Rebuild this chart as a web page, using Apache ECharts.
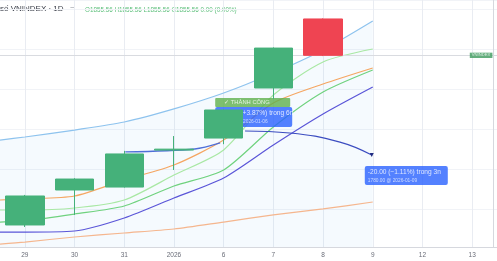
<!DOCTYPE html>
<html>
<head>
<meta charset="utf-8">
<script src="https://cdn.jsdelivr.net/npm/echarts@6/dist/echarts.min.js"></script>
<style>html,body{margin:0;padding:0;background:#fff;}#c{width:497px;height:261px;}</style>
</head>
<body>
<div id="c"></div>
<script>
// ---- data ----
const categories = ['29', '30', '31', '2026', '6', '7', '8', '9', '12', '13'];
// [open, close, low, high]
const candles = [
  [1728.5, 1750.2, 1727.0, 1751.0],
  [1754.7, 1762.9, 1736.0, 1763.5],
  [1756.9, 1781.7, 1756.5, 1784.0],
  [1784.6, 1785.3, 1769.7, 1795.1],
  [1793.6, 1814.6, 1789.0, 1815.0],
  [1831.1, 1861.0, 1822.8, 1861.5],
  [1882.8, 1855.56, 1855.0, 1883.2],
  '-', '-', '-'
];
const lineX = [-0.5, 0, 1, 2, 3, 4, 5, 6, 7];
const upperBand = [1792.1, 1794.4, 1799.6, 1805.6, 1815.4, 1827.3, 1842.3, 1859.6, 1881.3];
const lowerBand = [1723.2, 1723.2, 1724.0, 1733.7, 1748.7, 1763.7, 1788.4, 1811.6, 1831.8];
const maOrange = [1747.2, 1748.0, 1750.2, 1762.2, 1773.4, 1792.1, 1819.9, 1834.1, 1846.1];
const maLightGreen = [1739.7, 1739.7, 1741.2, 1747.2, 1765.9, 1784.7, 1825.8, 1850.6, 1860.3];
const maGreen = [1730.7, 1731.5, 1736.7, 1742.7, 1757.7, 1769.7, 1801.9, 1828.1, 1844.6];
const maLong = [1714.2, 1715.7, 1719.5, 1722.5, 1725.5, 1730.7, 1736.0, 1740.5, 1745.7];
const lastPrice = 1855.56;
const trendLine = [[2.02, 1783.2], [3.42, 1785.4], [3.93, 1789.9]];
const forecastPath = [[4.43, 1798.9], [5.33, 1797.4], [6.34, 1790.6], [6.98, 1780.9]];
const forecast1 = { x: 3.83, top: 1816.9, line1: '+67.00 (+3.87%) trong 6n', line2: '1800.00 @ 2026-01-06' };
const forecast2 = { x: 6.84, top: 1772.7, line1: '-20.00 (−1.11%) trong 3n', line2: '1780.00 @ 2026-01-09' };
const successLabel = { x: 3.83, top: 1823.6, text: '✓ THÀNH CÔNG' };
const tagPos = [9.18, lastPrice];
const gridPositions = [0, 1, 2, 3, 4, 5, 6, 7, 8, 9];

const pair = (ys) => lineX.map((x, i) => [x, ys[i]]);
const FONT = 'Arial, "Liberation Sans", sans-serif';

function lineSeries(name, ys, color, extra) {
  return Object.assign({
    name, type: 'line', xAxisIndex: 1, yAxisIndex: 0, data: pair(ys),
    symbol: 'none', smooth: 0.25, lineStyle: { color, width: 1.2 }, z: 3, silent: true
  }, extra || {});
}

const chart = echarts.init(document.getElementById('c'), null, { renderer: 'canvas' });
chart.setOption({
  animation: false,
  backgroundColor: '#ffffff',
  grid: { left: 0, right: 0, top: 0, bottom: 14 },
  xAxis: [
    {
      type: 'category', data: categories, boundaryGap: true,
      axisLine: { show: true, onZero: false, lineStyle: { color: '#d6d8de', width: 1 } },
      axisTick: { show: false },
      axisLabel: { fontSize: 6.5, color: '#6a6d78', margin: 5, fontFamily: FONT },
      splitLine: { show: false }
    },
    {
      type: 'value', min: -0.5, max: 9.5, show: true, position: 'bottom',
      axisLine: { show: false, onZero: false }, axisLabel: { show: false },
      axisTick: { show: false, customValues: gridPositions },
      splitLine: { show: true, lineStyle: { color: '#e9ecf2', width: 1 } }
    }
  ],
  yAxis: [
    {
      type: 'value', min: 1712, max: 1897, position: 'right', offset: -4, scale: true,
      axisLine: { show: true, onZero: false, lineStyle: { color: '#d6d8de' } },
      axisTick: { show: false }, axisLabel: { show: false },
      splitLine: { show: true, lineStyle: { color: '#f1f3f7' } }
    }
  ],
  graphic: [
    { type: 'text', left: 0, top: 5, style: { text: 'số VNINDEX · 1D', fontSize: 8, fontFamily: FONT, fill: '#3a3e49' } },
    { type: 'text', left: 70, top: 5, style: { text: '=', fontSize: 8, fontFamily: FONT, fill: '#8a8d96' } },
    { type: 'text', left: 85, top: 7, style: { text: 'O1855.56 H1855.56 L1855.56 C1855.56 0.00 (0.00%)', fontSize: 6.3, fontFamily: FONT, fill: '#5cbf7a' } }
  ],
  series: [
    lineSeries('Upper', upperBand, '#8ec3ee', { areaStyle: { color: 'rgba(66,150,235,0.07)' } }),
    lineSeries('Long MA', maLong, '#f5b68e'),
    lineSeries('Lower', lowerBand, '#5a55d8'),
    lineSeries('MA green', maGreen, '#6fd27e'),
    lineSeries('MA light', maLightGreen, '#a9e8a4'),
    lineSeries('MA orange', maOrange, '#f5a662'),
    {
      name: 'trend', type: 'line', xAxisIndex: 1, data: trendLine, smooth: 0.3, z: 4,
      symbol: 'none', lineStyle: { color: '#4f6fd8', width: 1.3 }, silent: true
    },
    {
      name: 'forecast', type: 'line', xAxisIndex: 1, z: 4, smooth: 0.45, silent: true,
      data: forecastPath.map((p, i) => i === forecastPath.length - 1
        ? { value: p, symbol: 'triangle', symbolRotate: 180, symbolSize: 4 }
        : { value: p, symbol: 'none' }),
      showSymbol: true,
      lineStyle: { color: '#3b4cc0', width: 1.2 }, itemStyle: { color: '#1f2a80' }
    },
    {
      name: 'price', type: 'candlestick', xAxisIndex: 0, yAxisIndex: 0, data: candles,
      barWidth: 39, z: 6,
      itemStyle: { color: '#45b17a', color0: '#ef4452', borderColor: '#45b17a', borderColor0: '#ef4452', borderWidth: 1 },
      markLine: {
        silent: true, symbol: 'none', label: { show: false },
        lineStyle: { color: '#d9dbe0', type: 'solid', width: 1 },
        data: [{ yAxis: lastPrice }]
      }
    },
    {
      name: 'annotations', type: 'scatter', xAxisIndex: 1, yAxisIndex: 0, symbolSize: 0.01, z: 5, silent: true,
      itemStyle: { color: 'transparent' },
      data: [
        {
          value: [forecast1.x, forecast1.top],
          label: {
            show: true, position: [0, 0], align: 'left', verticalAlign: 'top',
            formatter: '{a|' + forecast1.line1 + '}\n{b|' + forecast1.line2 + '}',
            backgroundColor: '#2962ff', borderRadius: 2, padding: [2, 3, 2, 3], width: 71, height: 16,
            rich: { a: { fontSize: 6.6, color: '#fff', fontFamily: FONT, lineHeight: 9 }, b: { fontSize: 4.8, color: '#e8eeff', fontFamily: FONT, lineHeight: 7 } }
          }
        },
        {
          value: [forecast2.x, forecast2.top],
          label: {
            show: true, position: [0, 0], align: 'left', verticalAlign: 'top',
            formatter: '{a|' + forecast2.line1 + '}\n{b|' + forecast2.line2 + '}',
            backgroundColor: '#2962ff', borderRadius: 2, padding: [2, 3, 2, 3], width: 77, height: 15,
            rich: { a: { fontSize: 6.6, color: '#fff', fontFamily: FONT, lineHeight: 9 }, b: { fontSize: 4.8, color: '#e8eeff', fontFamily: FONT, lineHeight: 7 } }
          }
        },
        {
          value: [successLabel.x, successLabel.top],
          label: {
            show: true, position: [0, 0], align: 'left', verticalAlign: 'top',
            formatter: successLabel.text,
            backgroundColor: '#5fb04c', borderRadius: 1, padding: [1.5, 3, 1, 9], width: 63, height: 6.5,
            fontSize: 5.8, color: '#fff', fontFamily: FONT
          }
        },
        {
          value: tagPos,
          label: {
            show: true, position: 'inside', align: 'center', verticalAlign: 'middle',
            formatter: 'VNINDEX', backgroundColor: '#3d9a5c', padding: [0.8, 2, 0.5, 2],
            fontSize: 4.2, color: '#fff', fontFamily: FONT
          }
        }
      ]
    }
  ]
});
</script>
</body>
</html>
